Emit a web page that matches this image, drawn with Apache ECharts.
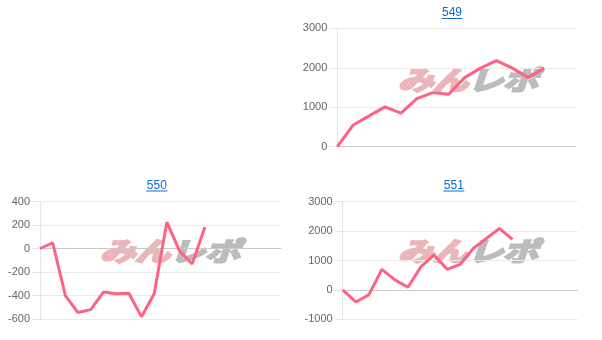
<!DOCTYPE html>
<html><head><meta charset="utf-8">
<script src="https://cdn.jsdelivr.net/npm/echarts@6/dist/echarts.min.js"></script>
<style>html,body{margin:0;padding:0;background:#fff}#c{width:602px;height:340px}</style>
</head><body><div id="c"></div>
<script>
// ---- data ----
const titles = ['549', '550', '551'];
const cats549 = ['1','2','3','4','5','6','7','8','9','10','11','12','13','14','15','16'];
const cats550 = ['1','2','3','4','5','6','7','8','9','10','11','12','13','14','15','16','17','18','19','20'];
const cats551 = ['1','2','3','4','5','6','7','8','9','10','11','12','13','14','15','16','17','18','19'];
const vals549 = [0, 550, 780, 1010, 850, 1220, 1370, 1330, 1750, 1990, 2180, 1990, 1750, 1990];
const vals550 = [0, 50, -400, -545, -520, -370, -385, -380, -580, -385, 225, -20, -130, 185];
const vals551 = [0, -410, -170, 700, 340, 90, 790, 1190, 700, 870, 1410, 1750, 2090, 1720];
const yTicks549 = {min: 0, max: 3000, interval: 1000};
const yTicks550 = {min: -600, max: 400, interval: 200};
const yTicks551 = {min: -1000, max: 3000, interval: 1000};
const wmChars = ['み', 'ん', 'レ', 'ポ'];

const chart = echarts.init(document.getElementById('c'), null, {renderer: 'canvas'});
const FONT = 'Liberation Sans, Arial, sans-serif';
const LINE = '#ff6384';

const grids = [
  {left: 337.3, right: 26, top: 28.3, bottom: 193.3},
  {left: 40, right: 321, top: 201.7, bottom: 21},
  {left: 342.7, right: 24.3, top: 201.7, bottom: 20.7}
];
const cats = [cats549, cats550, cats551];
const vals = [vals549, vals550, vals551];
const yt = [yTicks549, yTicks550, yTicks551];
const titlePos = [[452, 7], [156.8, 179.5], [453.8, 179.5]];
const wmPos = [[398, 80], [100, 251], [398, 251]];

const graphic = [];
titlePos.forEach((p, i) => {
  graphic.push({type: 'text', x: p[0], y: p[1], z: 10, style: {text: titles[i], fill: '#0a6ad4', font: '12px ' + FONT, textAlign: 'center', textVerticalAlign: 'top'}});
  graphic.push({type: 'line', z: 10, shape: {x1: p[0] - 10.5, y1: p[1] + 11.5, x2: p[0] + 10.5, y2: p[1] + 11.5}, style: {stroke: '#0a6ad4', lineWidth: 1}});
});
wmPos.forEach((p) => {
  wmChars.forEach((ch, k) => {
    const col = k < 2 ? '#ebb6b9' : '#bcbcbc';
    graphic.push({type: 'text', x: p[0] + 17.5 + k * 35, y: p[1], z: -5, scaleX: 1.15, scaleY: 0.85,
      style: {text: ch, fill: col, stroke: col, lineWidth: 2.5, font: 'italic bold 31px "Noto Sans CJK JP"', textAlign: 'center', textVerticalAlign: 'middle'}});
  });
});

chart.setOption({
  animation: false,
  backgroundColor: '#fff',
  graphic: graphic,
  grid: grids,
  xAxis: grids.map((g, i) => ({
    type: 'category', gridIndex: i, data: cats[i], boundaryGap: false,
    axisLine: {show: true, onZero: true, lineStyle: {color: '#c9c9c9', width: 1}},
    axisTick: {show: false}, axisLabel: {show: false}, splitLine: {show: false}
  })),
  yAxis: grids.map((g, i) => ({
    type: 'value', gridIndex: i, min: yt[i].min, max: yt[i].max, interval: yt[i].interval,
    axisLine: {show: true, lineStyle: {color: '#e6e6e6'}},
    axisTick: {show: true, length: 8, lineStyle: {color: '#e6e6e6'}},
    axisLabel: {color: '#666', fontSize: 11, fontFamily: FONT, margin: 10, formatter: (v) => String(v)},
    splitLine: {show: true, lineStyle: {color: '#ebebeb'}}
  })),
  series: vals.map((v, i) => ({
    type: 'line', xAxisIndex: i, yAxisIndex: i, data: v, showSymbol: false, symbol: 'none',
    lineStyle: {color: LINE, width: 3}, z: 5
  }))
});
</script></body></html>
